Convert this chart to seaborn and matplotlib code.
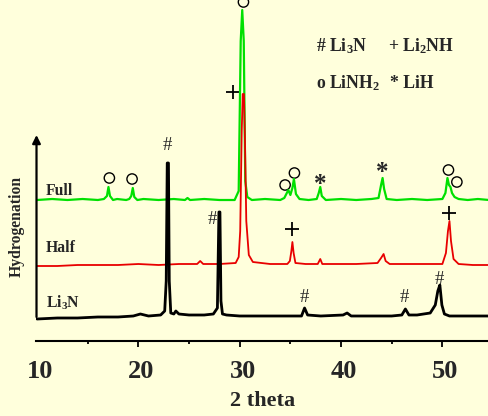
import numpy as np
import pandas as pd
import matplotlib
matplotlib.use('Agg')
import matplotlib.pyplot as plt
import matplotlib.transforms as mtrans
import seaborn as sns

full_x = [10.0, 11.5, 13.0, 14.5, 16.0, 16.6, 16.9, 17.05, 17.2, 17.5, 17.9, 18.8, 19.1, 19.3, 19.45, 19.6, 19.9, 20.5,
          22.0, 23.5, 24.6, 24.85, 25.1, 26.5, 28.0, 29.5, 29.9, 30.1, 30.25, 30.4, 30.55, 30.75, 31.2, 32.5, 34.0,
          34.4, 34.6, 34.8, 35.0, 35.2, 35.35, 35.55, 35.9, 36.8, 37.6, 37.8, 37.95, 38.1, 38.5, 40.0, 41.5,
          43.0, 43.7, 43.95, 44.1, 44.25, 44.5, 45.5, 47.0, 48.5, 50.0, 50.3, 50.5, 50.65, 50.8, 50.95, 51.2,
          51.6, 52.5, 53.5, 54.6]
full_y = [141, 142, 141, 142, 141, 142, 145, 154, 145, 141, 142, 141, 142, 145, 153, 144, 141, 142,
          141, 142, 141, 143, 141, 142, 141, 141, 150, 300, 331, 300, 160, 144, 141, 142, 141,
          143, 147, 151, 146, 153, 162, 147, 142, 141, 142, 148, 154, 145, 141, 142, 141,
          142, 143, 156, 163, 152, 142, 141, 142, 141, 142, 148, 163, 156, 154, 148, 144,
          142, 141, 142, 141]

half_x = [10.0, 12.0, 14.0, 16.0, 18.0, 20.0, 22.0, 24.0, 25.8, 26.1, 26.4, 28.0, 29.6, 29.9, 30.05, 30.2,
          30.3, 30.42, 30.52, 30.65, 30.9, 31.3, 33.0, 34.7, 34.95, 35.1, 35.2, 35.32, 35.5, 36.5, 37.7,
          37.95, 38.15, 39.5, 41.5, 43.6, 43.95, 44.2, 44.4, 44.8, 46.5, 48.5, 50.0, 50.35, 50.55, 50.7,
          50.85, 51.1, 51.6, 53.0, 54.6]
half_y = [75, 75, 76, 76, 76, 77, 76, 77, 77, 80, 77, 77, 78, 84, 110, 210, 247, 247, 200, 120, 86, 79, 77, 77, 80,
          90, 99, 88, 78, 77, 77, 82, 77, 77, 77, 78, 83, 87, 80, 77, 77, 77, 77, 88, 110, 120,
          100, 82, 77, 76, 76]

li3n_x = [10.0, 12.0, 14.0, 16.0, 18.0, 19.5, 20.2, 21.0, 22.2, 22.6, 22.75, 22.85, 22.97, 23.05, 23.2, 23.5,
          23.7, 24.0, 25.0, 26.5, 27.4, 27.8, 27.95, 28.05, 28.15, 28.3, 28.7, 30.0, 32.0, 34.0, 36.1,
          36.4, 36.7, 38.0, 40.2, 40.6, 41.0, 43.0, 45.0, 46.0, 46.35, 46.7, 47.5, 48.8, 49.3, 49.55,
          49.75, 49.95, 50.2, 50.7, 52.0, 54.6]
li3n_y = [22, 23, 23, 24, 24, 25, 27, 25, 26, 30, 60, 178, 178, 60, 28, 27, 30, 27, 26, 26, 27, 33, 129, 129, 40,
          27, 26, 25, 25, 25, 25, 33, 26, 25, 26, 28, 25, 25, 25, 26, 32, 26, 26, 28, 36, 50,
          56, 36, 27, 25, 25, 25]

samples = ['Full', 'Half', 'Li3N']
colors = ['#00e000', '#e80000', '#000000']

# peak markers
hash_x = [22.85, 27.35, 36.4, 46.25, 49.7]
hash_y = [196, 121, 44, 43, 62]
plus_x = [29.3, 35.2, 50.7]
plus_y = [249, 112, 128]
circ_x = [17.14, 19.38, 34.48, 35.4, 30.37, 50.6, 51.43]
circ_y = [163, 162, 156, 168, 339, 171, 159]
star_x = [37.94, 44.09]
star_y = [156, 169]

df = pd.concat([
    pd.DataFrame({'2 theta': full_x, 'I': full_y, 'sample': 'Full'}),
    pd.DataFrame({'2 theta': half_x, 'I': half_y, 'sample': 'Half'}),
    pd.DataFrame({'2 theta': li3n_x, 'I': li3n_y, 'sample': 'Li3N'}),
])

bg = '#ffffdc'
sns.set_theme(style='white', rc={'figure.facecolor': bg, 'axes.facecolor': bg})
plt.rcParams['font.family'] = ['Liberation Serif', 'DejaVu Serif']
plt.rcParams['mathtext.fontset'] = 'custom'
plt.rcParams['mathtext.rm'] = 'Liberation Serif:bold'
plt.rcParams['mathtext.bf'] = 'Liberation Serif:bold'
plt.rcParams['mathtext.it'] = 'Liberation Serif:bold'

fig = plt.figure(figsize=(4.89, 4.16), dpi=100)
ax = fig.add_axes([36 / 489, 75 / 416, 1 - 36 / 489, 341 / 416])

for s, c, lw in zip(samples, colors, [1.6, 1.3, 2.0]):
    sns.lineplot(data=df[df['sample'] == s], x='2 theta', y='I', color=c, lw=lw,
                 estimator=None, ax=ax, legend=False)

ax.set_xlim(9.9, 54.6)
ax.set_ylim(0, 341)
for sp in ['left', 'right', 'top']:
    ax.spines[sp].set_visible(False)
ax.spines['bottom'].set_color('black')
ax.spines['bottom'].set_linewidth(1.5)
ax.set_yticks([])
ax.set_ylabel('')
ax.set_xticks([10, 20, 30, 40, 50])
ax.set_xticks([15, 25, 35, 45], minor=True)
ax.tick_params(axis='x', which='major', direction='out', length=4.5, width=1.3, color='black',
               bottom=True, labelsize=19, pad=9)
ax.tick_params(axis='x', which='minor', direction='out', length=2.5, width=1.3, color='black', bottom=True)
shift = mtrans.ScaledTranslation(3 / 100, 0, fig.dpi_scale_trans)
for t in ax.get_xticklabels():
    t.set_fontweight('bold')
    t.set_transform(t.get_transform() + shift)
ax.xaxis.get_major_ticks()[0].tick1line.set_visible(False)
ax.set_xlabel('2 theta', fontsize=16, fontweight='bold', labelpad=6)

# hydrogenation arrow
ax.annotate('', xy=(9.95, 206), xytext=(9.95, 24),
            arrowprops=dict(arrowstyle='-|>', lw=1.6, color='black', mutation_scale=12,
                            shrinkA=0, shrinkB=0))
fig.text(17 / 489, 1 - 226 / 416, 'Hydrogenation', rotation=90, ha='center', va='center',
         fontsize=11.3, fontweight='bold')

ax.text(10.86, 146, 'Full', fontsize=11.3, fontweight='bold', va='baseline')
ax.text(10.86, 89.3, 'Half', fontsize=11.3, fontweight='bold', va='baseline')
ax.text(10.86, 33, r'Li$_\mathbf{3}$N', fontsize=11.3, fontweight='bold', va='baseline')

for x, y in zip(hash_x, hash_y):
    ax.text(x, y, '#', fontsize=13.5, ha='center', va='center')
sns.scatterplot(x=plus_x, y=plus_y, marker='+', s=95, color='black', linewidth=1.3, ax=ax, clip_on=False)
sns.scatterplot(x=circ_x, y=circ_y, marker='o', s=55, facecolor='none', edgecolor='black',
                linewidth=1.0, ax=ax, clip_on=False)
for x, y in zip(star_x, star_y):
    ax.text(x, y, '*', fontsize=18, fontweight='bold', ha='center', va='center')

# legend of phases
fig.text(316 / 489, 1 - 51.7 / 416, r'# Li$_\mathbf{3}$N', fontsize=12.7, fontweight='bold', va='baseline')
fig.text(388 / 489, 1 - 51.7 / 416, r'+ Li$_\mathbf{2}$NH', fontsize=12.7, fontweight='bold', va='baseline')
fig.text(316 / 489, 1 - 88 / 416, r'o LiNH$_\mathbf{2}$', fontsize=12.7, fontweight='bold', va='baseline')
fig.text(390 / 489, 1 - 88 / 416, '* LiH', fontsize=12.7, fontweight='bold', va='baseline')

plt.savefig('out.png', dpi=100, facecolor=bg)
plt.close()
